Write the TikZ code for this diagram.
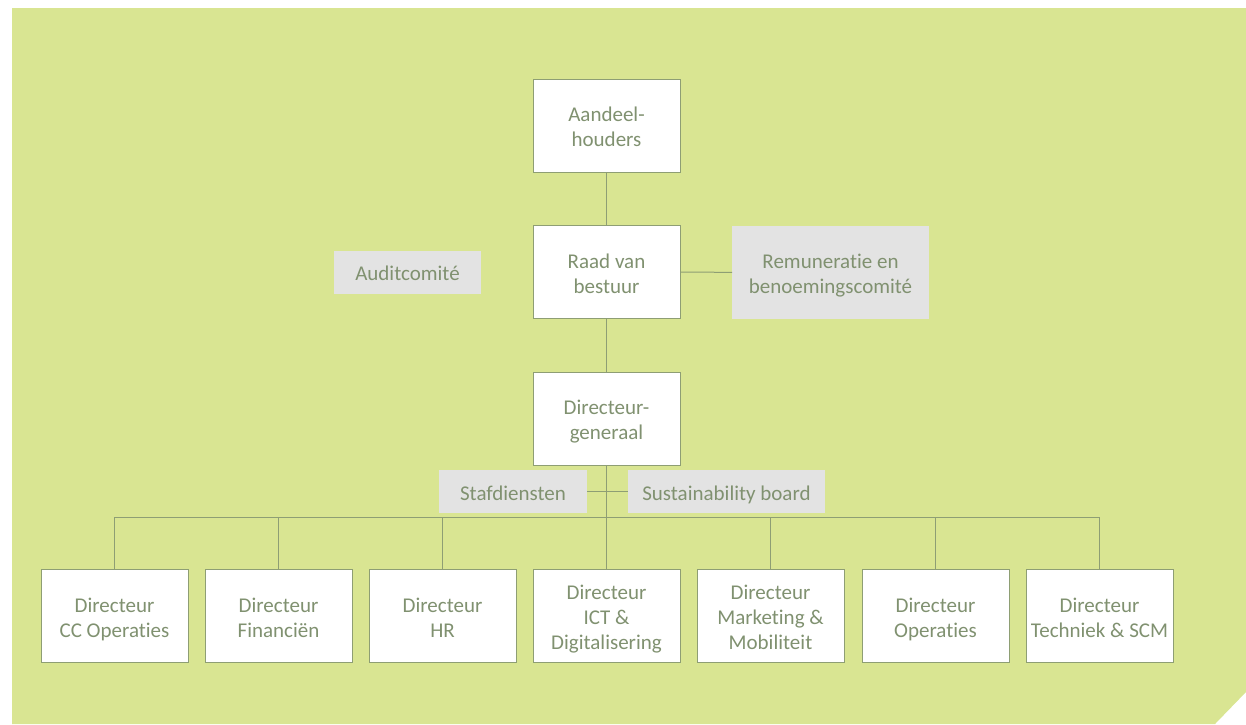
\documentclass[tikz,border=0pt]{standalone}
\usepackage{fontspec}
\setmainfont{Carlito}[Ligatures=NoCommon]
\definecolor{achtergrond}{RGB}{217,229,146}
\definecolor{tekst}{RGB}{128,145,112}
\definecolor{lijn}{RGB}{142,158,116}
\definecolor{grijs}{RGB}{227,227,227}
% tekst in een vak: regels gecentreerd, iets lager gezet
\newcommand\vak[1]{\begin{tabular}{@{}c@{}}\rule{0pt}{24.5pt}#1\end{tabular}}

\begin{document}
\begin{tikzpicture}[x=1pt,y=-1pt,
  tekstvak/.style={inner sep=0pt,outer sep=0pt,text=tekst,
    font=\fontsize{21}{25}\selectfont},
  wit/.style={tekstvak,draw=lijn,fill=white,minimum width=147pt,minimum height=93pt},
  grijsvak/.style={tekstvak,fill=grijs,minimum height=43pt},
  verbinding/.style={draw=lijn,line width=1pt}]
\useasboundingbox (0,0) rectangle (1246,724);
\fill[achtergrond] (12,8) -- (1246,8) -- (1246,692) -- (1215,724) -- (12,724) -- cycle;

\node[wit] (aandeel) at (606.5,125.5) {\vak{Aandeel-\\houders}};
\node[wit] (raad) at (606.5,272) {\vak{Raad van\\bestuur}};
\node[wit] (dg) at (606.5,418.5) {\vak{Directeur-\\generaal}};
\node[grijsvak,minimum width=147pt] (audit) at (407.5,272) {\vak{Auditcomité}};
\node[grijsvak,minimum width=197pt,minimum height=93pt] (remu) at (830.5,272.5) {\vak{Remuneratie en\\benoemingscomité}};
\node[grijsvak,minimum width=148pt] (staf) at (513,491.5) {\vak{Stafdiensten}};
\node[grijsvak,minimum width=197pt] (sust) at (726.5,491.5) {\vak{Sustainability board}};

\node[wit] (d1) at (114.5,616) {\vak{Directeur\\CC Operaties}};
\node[wit] (d2) at (278.5,616) {\vak{Directeur\\Financiën}};
\node[wit] (d3) at (442.5,616) {\vak{Directeur\\HR}};
\node[wit] (d4) at (606.5,616) {\vak{Directeur\\ICT \&\\Digitalisering}};
\node[wit] (d5) at (770.5,616) {\vak{Directeur\\Marketing \&\\Mobiliteit}};
\node[wit] (d6) at (935.5,616) {\vak{Directeur\\Operaties}};
\node[wit] (d7) at (1099.5,616) {\vak{Directeur\\Techniek \& SCM}};

\coordinate (bus) at (606.5,517);
\draw[verbinding] (aandeel) -- (raad);
\draw[verbinding] (raad) -- (dg);
\draw[verbinding] (raad) -- (remu);
\draw[verbinding] (dg) -- (d4);
\draw[verbinding] (staf) -- (sust);
\foreach \i in {1,2,3,5,6,7}
  \draw[verbinding] (d\i.north) |- (bus);
\end{tikzpicture}
\end{document}
